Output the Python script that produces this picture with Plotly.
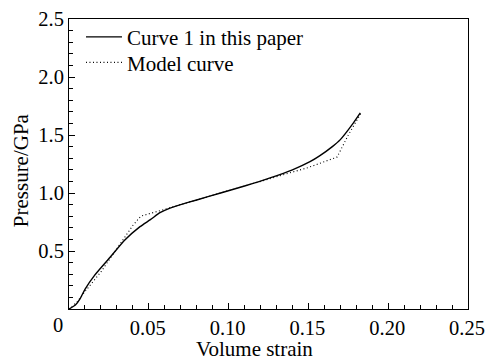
import plotly.graph_objects as go

# Curve 1 in this paper
curve_x = [0, 0.004, 0.007, 0.010, 0.016, 0.026, 0.035, 0.0445, 0.051, 0.057, 0.0633, 0.070,
           0.080, 0.095, 0.110, 0.126, 0.140, 0.151, 0.157, 0.165, 0.170, 0.178, 0.1825]
curve_y = [0, 0.035, 0.09, 0.17, 0.29, 0.45, 0.595, 0.71, 0.77, 0.83, 0.87, 0.90,
           0.94, 1.00, 1.06, 1.13, 1.20, 1.27, 1.32, 1.40, 1.46, 1.60, 1.69]

# Model curve
model_x = [0, 0.005, 0.010, 0.020, 0.030, 0.040, 0.045, 0.055, 0.065, 0.100, 0.130, 0.150,
           0.168, 0.175, 0.183]
model_y = [0, 0.06, 0.15, 0.32, 0.52, 0.72, 0.80, 0.84, 0.88, 1.02, 1.14, 1.22,
           1.31, 1.50, 1.69]

x_ticks = [0.05, 0.10, 0.15, 0.20, 0.25]
x_labels = ["0.05", "0.10", "0.15", "0.20", "0.25"]
y_ticks = [0.5, 1.0, 1.5, 2.0, 2.5]
y_labels = ["0.5", "1.0", "1.5", "2.0", "2.5"]

FONT = "Liberation Serif, Times New Roman, serif"
FS = 21
TXT = dict(family=FONT, size=FS, color="black")
TICK = dict(family=FONT, size=20.5, color="black")

fig = go.Figure()
fig.add_trace(go.Scatter(x=curve_x, y=curve_y, mode="lines", name="Curve 1 in this paper",
                         legend="legend",
                         line=dict(color="black", width=1.4, shape="spline", smoothing=0.6)))
fig.add_trace(go.Scatter(x=model_x, y=model_y, mode="lines", name="Model curve",
                         legend="legend2",
                         line=dict(color="black", width=1.1, dash="1px,2.5px")))

axis_common = dict(showline=True, linecolor="black", linewidth=1, mirror=True,
                   ticks="inside", ticklen=6, tickwidth=1, tickcolor="black", showgrid=False,
                   zeroline=False, tickfont=TICK, automargin=False,
                   ticklabeloverflow="allow")

fig.update_xaxes(range=[0, 0.25], tickvals=x_ticks, ticktext=x_labels, ticklabelshift=-1,
                 minor=dict(ticks="inside", dtick=0.01, ticklen=4, tickcolor="black", tickwidth=1),
                 **axis_common)
fig.update_yaxes(range=[0, 2.5], tickvals=y_ticks, ticktext=y_labels,
                 minor=dict(ticks="inside", dtick=0.1, ticklen=4, tickcolor="black", tickwidth=1),
                 **axis_common)

fig.add_annotation(x=-0.0275, y=0, xref="paper", yref="paper", text="0", showarrow=False,
                   xanchor="center", yanchor="top", yshift=-3, font=TICK)
fig.add_annotation(x=0.464, y=-0.092, xref="paper", yref="paper", text="Volume strain",
                   showarrow=False, xanchor="center", yanchor="top", font=TXT, borderpad=0)
fig.add_annotation(x=-0.120, y=0.479, xref="paper", yref="paper", text="Pressure/GPa",
                   showarrow=False, xanchor="center", yanchor="middle", textangle=-90, font=TXT)

leg = dict(xanchor="left", yanchor="top", bgcolor="rgba(0,0,0,0)", font=TXT,
           tracegroupgap=0, itemwidth=36)

fig.update_layout(
    width=486, height=356,
    margin=dict(l=69, r=18, t=19, b=47),
    paper_bgcolor="white", plot_bgcolor="white",
    font=TXT,
    showlegend=True,
    legend=dict(x=0.03, y=1.008, **leg),
    legend2=dict(x=0.03, y=0.92, **leg),
)

fig.write_html("out.html", config={"displayModeBar": False},
               post_script="document.body.style.margin='0';document.body.style.overflow='hidden';")
